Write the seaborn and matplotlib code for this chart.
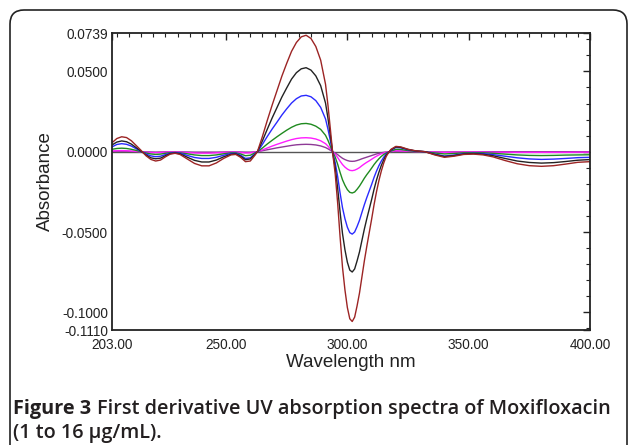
import numpy as np
import pandas as pd
import matplotlib
matplotlib.use("Agg")
import matplotlib.pyplot as plt
from matplotlib.patches import FancyBboxPatch
from matplotlib.ticker import FixedLocator, MultipleLocator, FormatStrFormatter
import seaborn as sns

# ==========================================
# DATA
# ==========================================
wavelength = [203, 205, 207, 209, 211, 213, 215, 217, 219, 221, 223, 225, 227, 229, 231,
              234, 237, 240, 243, 246, 249, 252, 254, 256, 258, 260, 262, 263,
              265, 267, 269, 271, 273, 275, 277, 279, 281, 283, 285, 287, 289, 291,
              292, 293, 294, 295, 296, 297, 298, 299, 300, 301, 302, 303, 304, 305,
              306, 307, 308, 309, 310, 311, 312, 313, 314, 315, 316, 317, 318,
              320, 322, 325, 328, 332, 336, 340, 344, 348, 352, 356, 360, 365, 370,
              375, 380, 385, 390, 395, 400]

conc_16 = [0.0056, 0.0082, 0.0093, 0.0088, 0.0068, 0.0038, 0.0008, -0.0025, -0.0048, -0.0058,
           -0.0052, -0.0032, -0.0015, -0.0010, -0.0017, -0.0045, -0.0073, -0.0088, -0.0088,
           -0.0070, -0.0042, -0.0020, -0.0017, -0.0035, -0.0062, -0.0058, -0.0020, 0.0003,
           0.0095, 0.0195, 0.0290, 0.0380, 0.0470, 0.0550, 0.0625, 0.0680, 0.0715, 0.0725,
           0.0705, 0.0655, 0.0570, 0.0420, 0.0290, 0.0140, -0.0015, -0.0140, -0.0320,
           -0.0530, -0.0720, -0.0860, -0.0970, -0.1040, -0.1057, -0.1030, -0.0960, -0.0880,
           -0.0780, -0.0680, -0.0590, -0.0505, -0.0420, -0.0330, -0.0250, -0.0180, -0.0120,
           -0.0070, -0.0030, -0.0005, 0.0015, 0.0033, 0.0030, 0.0015, 0.0006, 0.0000,
           -0.0020, -0.0035, -0.0028, -0.0017, -0.0015, -0.0020, -0.0032, -0.0055, -0.0075,
           -0.0087, -0.0091, -0.0087, -0.0077, -0.0066, -0.0062]

conc_12 = [0.0042, 0.0060, 0.0067, 0.0062, 0.0047, 0.0025, 0.0003, -0.0020, -0.0038, -0.0044,
           -0.0040, -0.0025, -0.0012, -0.0008, -0.0013, -0.0034, -0.0054, -0.0064, -0.0064,
           -0.0052, -0.0032, -0.0016, -0.0013, -0.0028, -0.0050, -0.0045, -0.0016, 0.0002,
           0.0068, 0.0140, 0.0210, 0.0275, 0.0340, 0.0397, 0.0452, 0.0492, 0.0516, 0.0523,
           0.0508, 0.0472, 0.0411, 0.0303, 0.0209, 0.0101, -0.0011, -0.0099, -0.0227,
           -0.0376, -0.0510, -0.0610, -0.0688, -0.0737, -0.0749, -0.0730, -0.0680, -0.0624,
           -0.0553, -0.0482, -0.0418, -0.0358, -0.0298, -0.0234, -0.0177, -0.0128, -0.0085,
           -0.0050, -0.0021, -0.0004, 0.0012, 0.0030, 0.0027, 0.0014, 0.0005, 0.0000,
           -0.0017, -0.0030, -0.0024, -0.0014, -0.0012, -0.0016, -0.0025, -0.0042, -0.0058,
           -0.0067, -0.0071, -0.0068, -0.0061, -0.0053, -0.0049]

conc_8 = [0.0030, 0.0045, 0.0050, 0.0046, 0.0035, 0.0018, 0.0002, -0.0014, -0.0026, -0.0031,
          -0.0028, -0.0018, -0.0009, -0.0006, -0.0009, -0.0023, -0.0036, -0.0042, -0.0042,
          -0.0035, -0.0022, -0.0011, -0.0010, -0.0022, -0.0042, -0.0038, -0.0012, 0.0001,
          0.0046, 0.0095, 0.0141, 0.0184, 0.0228, 0.0267, 0.0303, 0.0330, 0.0347, 0.0351,
          0.0342, 0.0318, 0.0276, 0.0204, 0.0141, 0.0068, -0.0007, -0.0068, -0.0155,
          -0.0257, -0.0349, -0.0417, -0.0470, -0.0504, -0.0513, -0.0500, -0.0466, -0.0427,
          -0.0378, -0.0330, -0.0286, -0.0245, -0.0204, -0.0160, -0.0121, -0.0087, -0.0058,
          -0.0034, -0.0015, -0.0003, 0.0009, 0.0027, 0.0024, 0.0012, 0.0004, 0.0000,
          -0.0015, -0.0027, -0.0021, -0.0012, -0.0010, -0.0012, -0.0018, -0.0028, -0.0038,
          -0.0045, -0.0048, -0.0046, -0.0042, -0.0037, -0.0035]

conc_4 = [0.0015, 0.0020, 0.0022, 0.0020, 0.0015, 0.0008, 0.0000, -0.0008, -0.0014, -0.0017,
          -0.0015, -0.0010, -0.0006, -0.0005, -0.0007, -0.0013, -0.0020, -0.0024, -0.0024,
          -0.0020, -0.0013, -0.0007, -0.0007, -0.0014, -0.0025, -0.0022, -0.0007, 0.0000,
          0.0023, 0.0048, 0.0071, 0.0093, 0.0114, 0.0134, 0.0152, 0.0166, 0.0174, 0.0176,
          0.0171, 0.0159, 0.0139, 0.0102, 0.0071, 0.0034, -0.0004, -0.0034, -0.0078,
          -0.0129, -0.0175, -0.0209, -0.0236, -0.0253, -0.0257, -0.0251, -0.0234, -0.0214,
          -0.0190, -0.0165, -0.0143, -0.0123, -0.0102, -0.0080, -0.0061, -0.0044, -0.0029,
          -0.0017, -0.0008, -0.0002, 0.0004, 0.0015, 0.0014, 0.0007, 0.0002, 0.0000,
          -0.0008, -0.0014, -0.0011, -0.0007, -0.0006, -0.0007, -0.0010, -0.0015, -0.0020,
          -0.0023, -0.0024, -0.0023, -0.0021, -0.0020, -0.0019]

conc_2 = [0.0004, 0.0006, 0.0007, 0.0006, 0.0004, 0.0002, 0.0000, -0.0003, -0.0005, -0.0006,
          -0.0005, -0.0003, -0.0002, -0.0002, -0.0003, -0.0005, -0.0008, -0.0009, -0.0009,
          -0.0007, -0.0005, -0.0003, -0.0003, -0.0005, -0.0008, -0.0007, -0.0002, 0.0000,
          0.0011, 0.0023, 0.0035, 0.0046, 0.0056, 0.0066, 0.0075, 0.0082, 0.0086, 0.0087,
          0.0085, 0.0079, 0.0068, 0.0050, 0.0035, 0.0017, -0.0002, -0.0016, -0.0036,
          -0.0059, -0.0080, -0.0096, -0.0108, -0.0116, -0.0118, -0.0115, -0.0108, -0.0099,
          -0.0087, -0.0076, -0.0066, -0.0057, -0.0047, -0.0037, -0.0028, -0.0020, -0.0013,
          -0.0008, -0.0003, -0.0001, 0.0002, 0.0006, 0.0005, 0.0003, 0.0001, 0.0000,
          -0.0002, -0.0004, -0.0003, -0.0002, -0.0002, -0.0002, -0.0003, -0.0003, -0.0004,
          -0.0004, -0.0004, -0.0004, -0.0004, -0.0003, -0.0003]

conc_1 = [0.0002, 0.0003, 0.0003, 0.0003, 0.0002, 0.0001, 0.0000, -0.0001, -0.0002, -0.0003,
          -0.0002, -0.0001, -0.0001, -0.0001, -0.0001, -0.0002, -0.0003, -0.0003, -0.0003,
          -0.0003, -0.0002, -0.0001, -0.0001, -0.0002, -0.0003, -0.0003, -0.0001, 0.0000,
          0.0006, 0.0012, 0.0018, 0.0024, 0.0029, 0.0034, 0.0039, 0.0043, 0.0045, 0.0046,
          0.0045, 0.0042, 0.0036, 0.0026, 0.0018, 0.0009, -0.0001, -0.0008, -0.0018,
          -0.0030, -0.0041, -0.0049, -0.0055, -0.0059, -0.0060, -0.0059, -0.0055, -0.0050,
          -0.0044, -0.0039, -0.0034, -0.0029, -0.0024, -0.0019, -0.0014, -0.0010, -0.0007,
          -0.0004, -0.0002, 0.0000, 0.0001, 0.0003, 0.0003, 0.0002, 0.0001, 0.0000,
          -0.0001, -0.0002, -0.0001, -0.0001, -0.0001, 0.0000, 0.0000, 0.0000, 0.0000,
          0.0000, 0.0000, 0.0000, 0.0000, 0.0000, 0.0000]

y_ticks = [0.0739, 0.05, 0.0, -0.05, -0.1, -0.111]
x_ticks = [203, 250, 300, 350, 400]

series = [("1", conc_1, "#8e3a96"), ("2", conc_2, "#ff1cff"), ("4", conc_4, "#1f8a1f"),
          ("8", conc_8, "#2a2aff"), ("12", conc_12, "#222222"), ("16", conc_16, "#9c2424")]

# ==========================================
# PLOT
# ==========================================
sns.set_style("white")
plt.rcParams['font.family'] = ['Liberation Sans', 'DejaVu Sans']

fig = plt.figure(figsize=(6.29, 4.45), dpi=100)
ax = fig.add_axes([112/629, 1 - 330/445, 478/629, 297/445])

ax.axhline(0, color="#555555", lw=1.0, zorder=1)
for name, vals, col in series:
    df = pd.DataFrame({"wl": wavelength, "abs": vals})
    sns.lineplot(data=df, x="wl", y="abs", color=col, lw=1.0, ax=ax, zorder=2)

ax.set_xlim(203, 400)
ax.set_ylim(-0.111, 0.0739)
ax.xaxis.set_major_locator(FixedLocator(x_ticks))
ax.xaxis.set_minor_locator(MultipleLocator(5))
ax.yaxis.set_major_locator(FixedLocator(y_ticks))
ax.yaxis.set_minor_locator(MultipleLocator(0.01))
ax.xaxis.set_major_formatter(FormatStrFormatter("%.2f"))
ax.yaxis.set_major_formatter(FormatStrFormatter("%.4f"))
ax.tick_params(which="both", direction="in", top=True, right=True, color="#222222",
               labelsize=9.8, labelcolor="#222222")
ax.tick_params(which="major", length=5, width=1)
ax.tick_params(which="minor", length=3, width=0.8)
ax.tick_params(axis="x", which="major", pad=6)
ax.tick_params(axis="y", which="major", pad=3)
for sp in ax.spines.values():
    sp.set_color("#222222")
    sp.set_linewidth(1.3)

ax.set_xlabel("Wavelength nm", fontsize=13.5, color="#222222", labelpad=1)
ax.set_ylabel("Absorbance", fontsize=13.5, color="#222222", labelpad=6)

# rounded frame around figure panel
frame = FancyBboxPatch((10, -30), 617, 465, boxstyle="round,pad=0,rounding_size=14",
                       transform=None, fill=False, ec="#222222", lw=1.2)
fig.patches.append(frame)

# caption
cap_font = ["Open Sans", "DejaVu Sans"]
cap1 = fig.text(13 / 629, 1 - 409 / 445, "Figure 3", fontsize=14.3, fontweight="bold",
                family=cap_font, va="center", ha="left", color="#231f20")
fig.canvas.draw()
bb = cap1.get_window_extent()
fig.text((bb.x1 + 6) / 629, 1 - 409 / 445,
         "First derivative UV absorption spectra of Moxifloxacin", fontsize=14.3,
         fontweight="semibold", family=cap_font, va="center",
         ha="left", color="#231f20")
fig.text(13 / 629, 1 - 433 / 445, "(1 to 16 μg/mL).", fontsize=14.3, fontweight="semibold",
         family=cap_font, va="center", ha="left", color="#231f20")

fig.savefig("out.png", dpi=100)
